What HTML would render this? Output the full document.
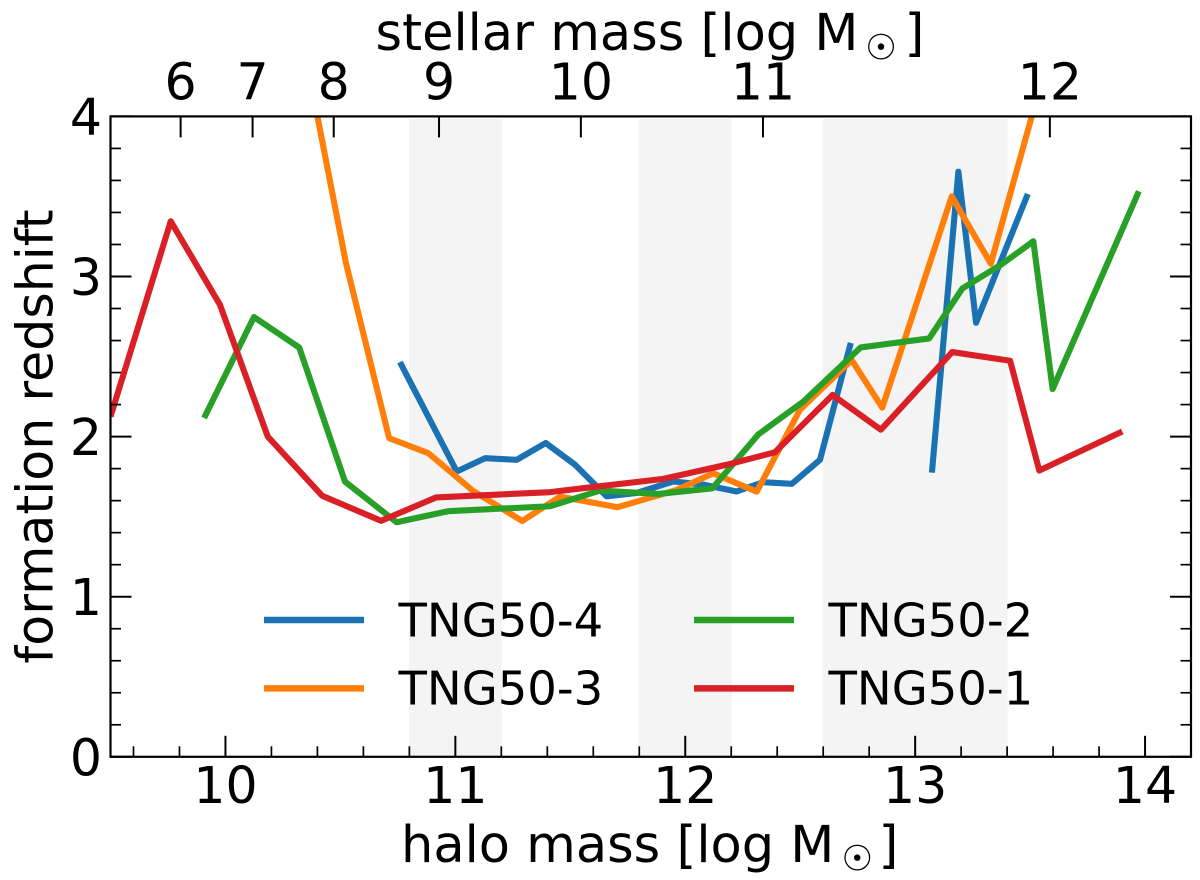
<!DOCTYPE html>
<html>
<head>
<meta charset="utf-8">
<title>Formation redshift vs halo mass</title>
<style>
html,body{margin:0;padding:0;background:#fff;}
svg{display:block;}
text{font-family:"DejaVu Sans","Liberation Sans",sans-serif;fill:#000;}
</style>
</head>
<body>
<svg id="chart" width="1200" height="880" viewBox="0 0 1200 880" xmlns="http://www.w3.org/2000/svg">
<defs><clipPath id="axes-clip"><rect x="110.5" y="116.4" width="1080.5" height="640.4"></rect></clipPath></defs>
<rect x="0" y="0" width="1200" height="880" fill="#ffffff"></rect>
<g id="bands"></g>
<g id="series" clip-path="url(#axes-clip)"></g>
<g id="ticks"></g>
<rect x="110.5" y="116.4" width="1080.5" height="640.4" fill="none" stroke="#000" stroke-width="2.2"></rect>
<g id="labels" font-size="50.5"></g>
<g>
<text x="375.5" y="50" font-size="51">stellar mass [log M</text>
<text x="881" y="59.5" font-size="35.5" text-anchor="middle">☉</text>
<text x="904.5" y="50" font-size="51">]</text>
</g>
<g>
<text x="401" y="862" font-size="51">halo mass [log M</text>
<text x="857.3" y="870.5" font-size="35.5" text-anchor="middle">☉</text>
<text x="878.5" y="862" font-size="51">]</text>
</g>
<text transform="translate(52.3 436.5) rotate(-90)" font-size="50.6" text-anchor="middle">formation redshift</text>
<g id="legend"></g>
</svg>
<script>
var yMajorTicks = [0, 1, 2, 3, 4];
var xMajorTicks = [10, 11, 12, 13, 14];
var stellarTickLabels = ['6', '7', '8', '9', '10', '11', '12'];
var stellarTickHaloMass = [9.805, 10.118, 10.471, 10.929, 11.546, 12.338, 13.586];
var bandStart = [10.8, 11.8, 12.6];
var bandEnd = [11.2, 12.2, 13.4];

var seriesNames = ['TNG50-4', 'TNG50-3', 'TNG50-2', 'TNG50-1'];
var seriesColors = ['#1b72b2', '#ff7f0a', '#28a028', '#d92027'];

var tng504Mass = [10.759, 11.006, 11.129, 11.267, 11.393, 11.52, 11.658, 11.789, 11.948, 12.078, 12.223, 12.338, 12.464, 12.586, 12.72, null, 13.073, 13.188, 13.265, 13.49];
var tng504Z = [2.465, 1.782, 1.865, 1.855, 1.96, 1.825, 1.627, 1.648, 1.72, 1.7, 1.657, 1.715, 1.705, 1.855, 2.585, null, 1.775, 3.655, 2.711, 3.515];

var tng503Mass = [10.396, 10.524, 10.712, 10.882, 11.078, 11.291, 11.455, 11.706, 11.963, 12.122, 12.311, 12.499, 12.724, 12.857, 13.159, 13.329, 13.513];
var tng503Z = [4.03, 3.085, 1.99, 1.897, 1.66, 1.473, 1.625, 1.559, 1.667, 1.771, 1.656, 2.168, 2.478, 2.181, 3.5, 3.08, 4.03];

var tng502Mass = [9.907, 10.124, 10.321, 10.52, 10.744, 10.968, 11.412, 11.629, 11.883, 12.118, 12.318, 12.513, 12.763, 13.061, 13.205, 13.376, 13.514, 13.598, 13.973];
var tng502Z = [2.116, 2.747, 2.556, 1.719, 1.465, 1.534, 1.565, 1.663, 1.642, 1.677, 2.014, 2.218, 2.557, 2.613, 2.925, 3.076, 3.22, 2.297, 3.532];

var tng501Mass = [9.5, 9.762, 9.976, 10.184, 10.421, 10.677, 10.916, 11.412, 11.615, 11.905, 12.18, 12.39, 12.641, 12.851, 13.161, 13.413, 13.54, 13.901];
var tng501Z = [2.125, 3.345, 2.824, 2.0, 1.63, 1.474, 1.62, 1.653, 1.688, 1.736, 1.824, 1.902, 2.26, 2.043, 2.528, 2.474, 1.788, 2.032];

var seriesMass = [tng504Mass, tng503Mass, tng502Mass, tng501Mass];
var seriesZ = [tng504Z, tng503Z, tng502Z, tng501Z];

var NS = 'http://www.w3.org/2000/svg';
function xScale(v) { return 110.5 + 229.9 * (v - 9.5); }
function yScale(v) { return 756.8 - 160.1 * v; }
function make(tag, attrs, parent) {
  var el = document.createElementNS(NS, tag);
  for (var k in attrs) { el.setAttribute(k, attrs[k]); }
  parent.appendChild(el);
  return el;
}
function tickLine(parent, x1, y1, x2, y2, w, name) {
  var el = make('line', { x1: x1, y1: y1, x2: x2, y2: y2, stroke: '#000', 'stroke-width': w }, parent);
  
  
}
function tickText(parent, x, y, anchor, str, name) {
  var el = make('text', { x: x, y: y, 'text-anchor': anchor }, parent);
  el.textContent = str;
  
  
}

var bandsG = document.getElementById('bands');
bandStart.forEach(function (s, i) {
  var rect = make('rect', { x: xScale(s) - 0.5, y: 119, width: xScale(bandEnd[i]) - xScale(s) + 1, height: 637, fill: '#f4f4f4' }, bandsG);
  
  
});

var seriesG = document.getElementById('series');
seriesNames.forEach(function (name, i) {
  var d = '', pen = false;
  seriesMass[i].forEach(function (m, j) {
    if (m === null) { pen = false; return; }
    d += (pen ? 'L' : 'M') + xScale(m).toFixed(2) + ' ' + yScale(seriesZ[i][j]).toFixed(2);
    pen = true;
  });
  var path = make('path', { d: d, fill: 'none', stroke: seriesColors[i], 'stroke-width': 6.1, 'stroke-linejoin': 'round', 'stroke-linecap': 'butt' }, seriesG);
  
  
});

var ticksG = document.getElementById('ticks');
var labelsG = document.getElementById('labels');
var top_ = yScale(4), bottom_ = yScale(0), left_ = xScale(9.5), right_ = xScale(14.2);

xMajorTicks.forEach(function (v) {
  tickLine(ticksG, xScale(v), bottom_, xScale(v), bottom_ - 21, 2, 'x-major-tick');
  tickText(labelsG, xScale(v), 803, 'middle', String(v), 'x-tick-label');
});
for (var mx = 48; mx <= 71; mx++) {
  if (mx % 5 !== 0) {
    tickLine(ticksG, xScale(mx / 5), bottom_, xScale(mx / 5), bottom_ - 10.5, 1.7, 'x-minor-tick');
  }
}
yMajorTicks.forEach(function (v) {
  tickLine(ticksG, left_, yScale(v), left_ + 21, yScale(v), 2, 'y-major-tick');
  tickLine(ticksG, right_, yScale(v), right_ - 21, yScale(v), 2, 'y-major-tick-right');
  tickText(labelsG, 102, yScale(v) + 18.5, 'end', String(v), 'y-tick-label');
});
for (var my = 1; my < 20; my++) {
  if (my % 5 !== 0) {
    tickLine(ticksG, left_, yScale(my / 5), left_ + 10.5, yScale(my / 5), 1.7, 'y-minor-tick');
    tickLine(ticksG, right_, yScale(my / 5), right_ - 10.5, yScale(my / 5), 1.7, 'y-minor-tick-right');
  }
}
stellarTickLabels.forEach(function (lab, i) {
  var px = xScale(stellarTickHaloMass[i]);
  tickLine(ticksG, px, top_, px, top_ + 21, 2, 'top-major-tick');
  tickText(labelsG, px, 99.5, 'middle', lab, 'top-tick-label');
});

var legendG = document.getElementById('legend');
var legendCol = [0, 0, 1, 1];
var legendRow = [0, 1, 0, 1];
seriesNames.forEach(function (name, i) {
  var lx = 264 + legendCol[i] * 430;
  var ly = 620 + legendRow[i] * 68.4;
  var key = make('line', { x1: lx, y1: ly, x2: lx + 100, y2: ly, stroke: seriesColors[i], 'stroke-width': 6.5 }, legendG);
  
  
  var txt = make('text', { x: lx + 134.5, y: ly + 16.3, 'font-size': 46.5 }, legendG);
  txt.textContent = name;
  
  
});
</script>
</body>
</html>
